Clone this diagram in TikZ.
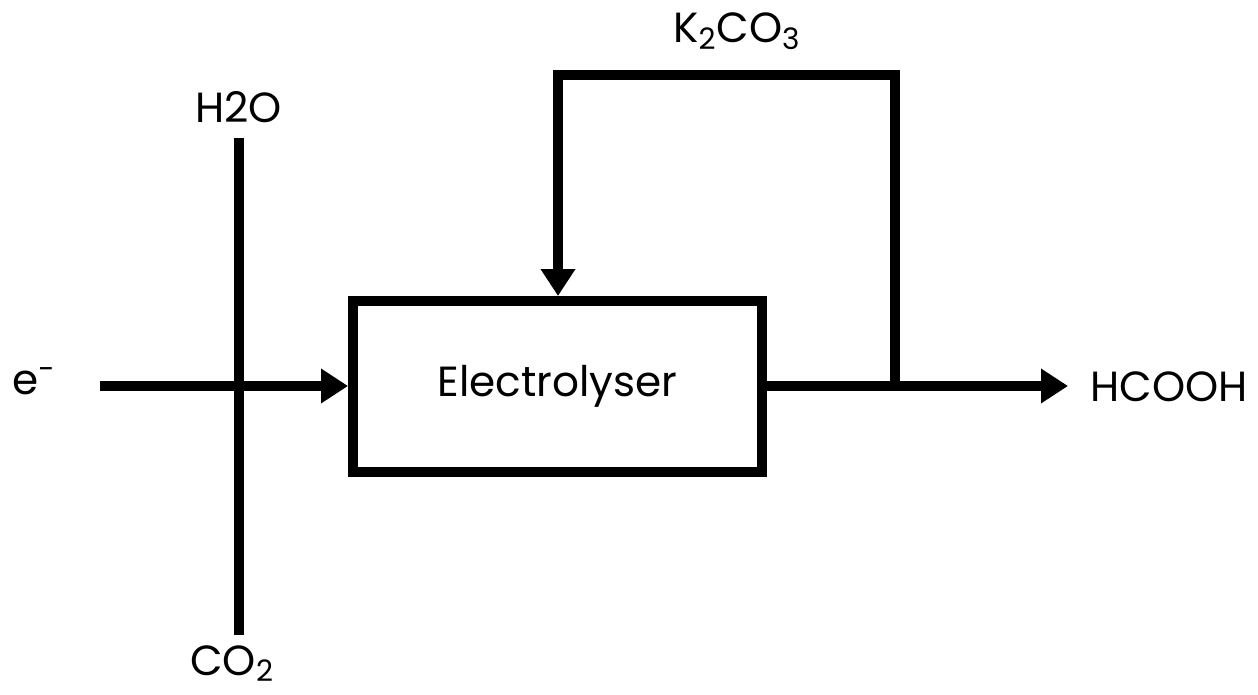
\documentclass[tikz,border=0pt]{standalone}
\usepackage{fontspec}
\setmainfont{Poppins}
\usetikzlibrary{positioning,arrows.meta}

\begin{document}
\begin{tikzpicture}[x=0.02cm,y=-0.02cm,
  pipe/.style={line width=0.2cm},
  flow/.style={pipe,-{Triangle[length=0.54cm,width=0.66cm]}},
  unit/.style={draw,line width=0.2cm,minimum width=8.18cm,minimum height=3.42cm},
  lbl/.style={font=\fontsize{24}{28}\selectfont,inner sep=0pt}]
  \useasboundingbox (0,0) rectangle (1258,695);
  % labels
  \node[unit,lbl] (ely) at (557.5,386.5) {Electrolyser};
  \node[lbl,anchor=base west] (elec) at (12,395) {e\textsuperscript{-}};
  \node[lbl,anchor=base west] (h2o) at (195,123) {H2O};
  \node[lbl,anchor=base west] (co2) at (190,675) {CO\textsubscript{2}};
  \node[lbl,anchor=base west] (k2co3) at (673,43) {K\textsubscript{2}CO\textsubscript{3}};
  \node[lbl,anchor=base west] (hcooh) at (1090,402) {HCOOH};
  % pipes
  \coordinate (ein) at (100,386);
  \coordinate (vtop) at (238.5,138);
  \coordinate (vbot) at (238.5,635);
  \coordinate (split) at (895,386);
  \coordinate (rtop) at (895,75);
  \coordinate (ltop) at (558,75);
  \draw[pipe] (vtop) -- (vbot);
  \draw[flow] (ein) -- (ein -| ely.west);
  \draw[flow] (ely.east |- split) -- ([xshift=-0.44cm]hcooh.west |- split);
  \draw[flow] (split) -- (rtop) -- (ltop) -- (ltop |- ely.north);
\end{tikzpicture}
\end{document}
